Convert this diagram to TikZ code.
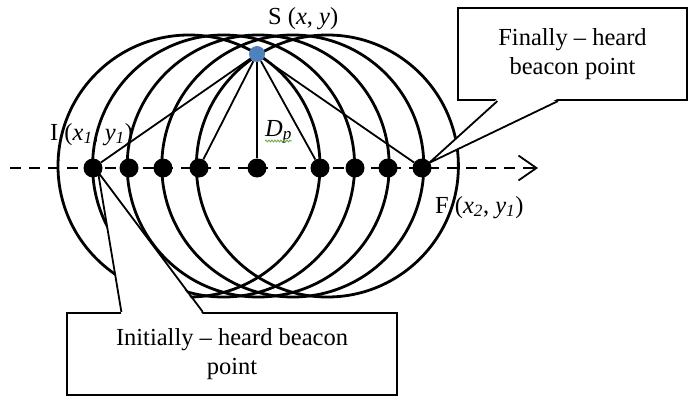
\documentclass[tikz,border=0pt]{standalone}
\usepackage{fontspec}
\setmainfont{Liberation Serif}
\usetikzlibrary{arrows.meta,calc,decorations.pathmorphing}
\definecolor{beaconblue}{HTML}{4F81BD}
\definecolor{spellgreen}{HTML}{6FAE4F}
\newcommand{\figfont}{\fontsize{24.5pt}{29pt}\selectfont}

\begin{document}
\begin{tikzpicture}[
    x=1pt, y=-1pt,
    rangering/.style={line width=2.8pt},
    ray/.style={line width=1.8pt},
    track/.style={-{Straight Barb[length=18pt,width=25pt]}, line width=1.8pt, dash pattern=on 11pt off 8pt},
    beacon/.style={circle, fill=black, inner sep=0pt, minimum size=19pt},
    sensor/.style={circle, fill=beaconblue, inner sep=0pt, minimum size=16pt},
    lbl/.style={font=\figfont, inner sep=0pt},
    callbox/.style={draw, line width=2.2pt, fill=white, font=\figfont, align=center, inner sep=0pt},
    pointer/.style={line width=1.8pt, line join=miter},
  ]
  \useasboundingbox (0,0) rectangle (688,396);

  % =================== RANGE CIRCLES ===================
  \foreach \cx in {189,223.6,258.2,292.8,327.4}
    \draw[rangering] (\cx,166) circle[radius=131pt];

  % Moving direction (dashed track)
  \coordinate (tstart) at (10,168);
  \coordinate (tend) at (538,168);
  \draw[track] (tstart) -- (tend);

  % =================== CALLOUTS ===================
  % Finally-heard box (top right)
  \node[callbox, minimum width=229pt, minimum height=92pt] (fin) at (572.5,54)
    {Finally -- heard\\beacon point};
  \coordinate (fa) at ($(fin.south west)!0.175!(fin.south east)$);
  \coordinate (fb) at ($(fin.south west)!0.437!(fin.south east)$);
  \coordinate (ftip) at (429,163);
  \fill[white] ([yshift=2.5pt]fa) -- (ftip) -- ([yshift=2.5pt]fb) -- cycle;
  \draw[pointer] (fa) -- (ftip) -- (fb);

  % Initially-heard box (bottom)
  \node[callbox, minimum width=330pt, minimum height=82pt] (ini) at (232,354)
    {Initially -- heard beacon\\point};
  \coordinate (ia) at ($(ini.north west)!0.167!(ini.north east)$);
  \coordinate (ib) at ($(ini.north west)!0.412!(ini.north east)$);
  \coordinate (itip) at (98,172);
  \fill[white] ([yshift=-2.5pt]ia) -- (itip) -- ([yshift=-2.5pt]ib) -- cycle;
  \draw[pointer] (ia) -- (itip) -- (ib);

  % =================== BEACON POINTS ===================
  \node[beacon] (I) at (93,168) {};
  \node[beacon] (b2) at (129,168) {};
  \node[beacon] (b3) at (163,168) {};
  \node[beacon] (b4) at (199,168) {};
  \node[beacon] (Dp) at (257,168) {};
  \node[beacon] (b6) at (320,168) {};
  \node[beacon] (b7) at (355,168) {};
  \node[beacon] (b8) at (388,168) {};
  \node[beacon] (F) at (422,168) {};

  % Sensor node
  \node[sensor] (S) at (257,54) {};

  % Rays from the sensor
  \foreach \t in {I,b4,Dp,b6,F}
    \draw[ray] (S) -- (\t);

  % =================== LABELS ===================
  \node[lbl, anchor=base west] (Slbl) at (268,25) {S (\textit{x}, \textit{y})};
  \node[lbl, anchor=base west] (Ilbl) at (50,140)
    {I (\textit{x}\textsubscript{\textit{1}}, \textit{y}\textsubscript{\textit{1}})};
  \node[lbl, anchor=base west] (Flbl) at (435,213)
    {F (\textit{x}\textsubscript{\textit{2}}, \textit{y}\textsubscript{\textit{1}})};
  \node[lbl, anchor=base west] (Dlbl) at (265,136) {\textit{D}\textsubscript{\textit{p}}};
  \draw[spellgreen, line width=0.9pt, decorate, decoration={snake, amplitude=0.9pt, segment length=3pt}]
    ([yshift=-5pt]Dlbl.base west) -- ([yshift=-5pt]Dlbl.base east);

\end{tikzpicture}
\end{document}
